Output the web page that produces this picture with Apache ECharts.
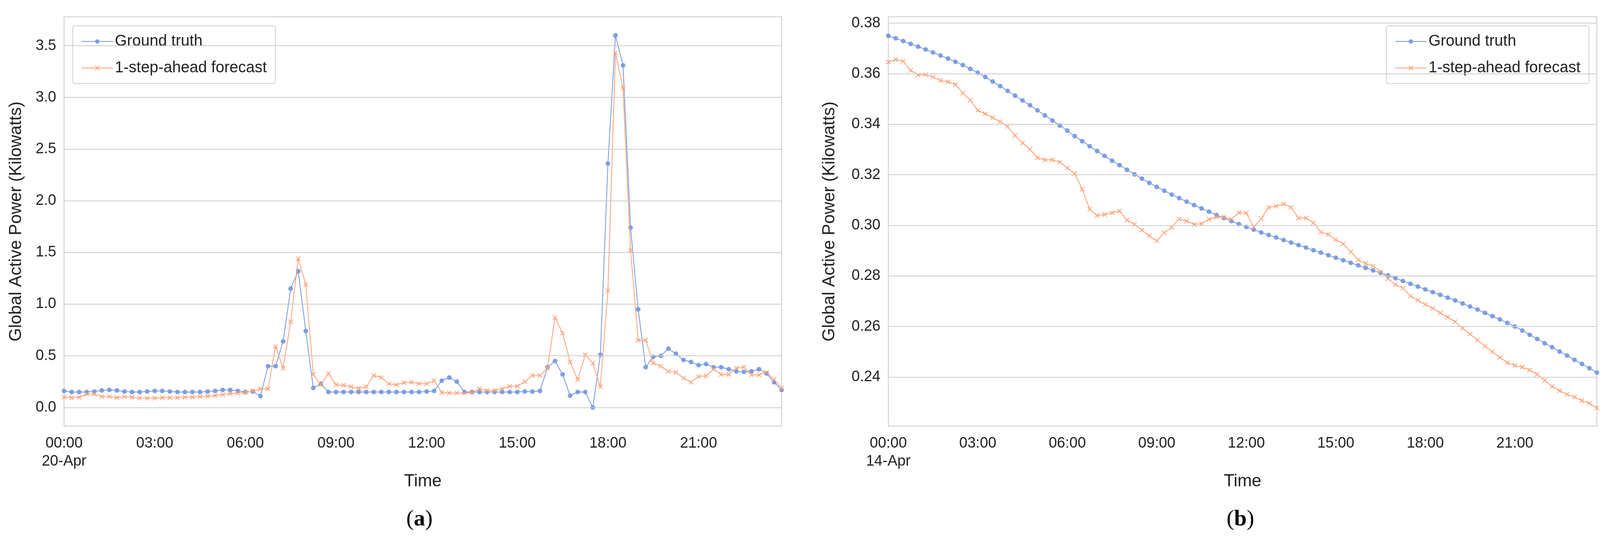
<!DOCTYPE html>
<html><head><meta charset="utf-8">
<script src="https://cdn.jsdelivr.net/npm/echarts@6/dist/echarts.min.js"></script>
<style>html,body{margin:0;padding:0;background:#fff}#c{width:4108px;height:1389px}</style>
</head><body><div id="c"></div>
<script>
const truthA=[0.16,0.15,0.15,0.15,0.155,0.165,0.17,0.165,0.155,0.15,0.15,0.155,0.16,0.16,0.155,0.15,0.15,0.15,0.15,0.155,0.16,0.17,0.17,0.16,0.15,0.155,0.11,0.40,0.40,0.64,1.15,1.32,0.74,0.19,0.23,0.15,0.15,0.15,0.15,0.15,0.15,0.15,0.15,0.15,0.15,0.15,0.15,0.15,0.155,0.16,0.26,0.29,0.25,0.15,0.15,0.15,0.15,0.15,0.15,0.15,0.15,0.155,0.155,0.16,0.39,0.45,0.32,0.115,0.15,0.15,0.0,0.51,2.36,3.60,3.31,1.74,0.95,0.39,0.49,0.50,0.57,0.52,0.46,0.44,0.41,0.42,0.39,0.39,0.37,0.35,0.345,0.35,0.37,0.33,0.245,0.17];
const predA=[0.10,0.095,0.10,0.13,0.13,0.105,0.105,0.095,0.105,0.10,0.09,0.09,0.09,0.095,0.095,0.095,0.10,0.10,0.105,0.11,0.115,0.125,0.135,0.14,0.145,0.16,0.18,0.18,0.59,0.38,0.83,1.44,1.19,0.32,0.22,0.33,0.22,0.215,0.20,0.185,0.20,0.31,0.29,0.23,0.22,0.24,0.245,0.23,0.23,0.26,0.145,0.14,0.14,0.14,0.145,0.18,0.165,0.165,0.18,0.205,0.205,0.25,0.31,0.31,0.38,0.87,0.72,0.44,0.27,0.51,0.43,0.20,1.13,3.43,3.09,1.52,0.65,0.65,0.43,0.40,0.35,0.34,0.285,0.245,0.30,0.305,0.37,0.32,0.32,0.38,0.39,0.315,0.315,0.34,0.27,0.19];
const truthB=[0.3750,0.3740,0.3729,0.3718,0.3707,0.3696,0.3684,0.3672,0.3660,0.3647,0.3634,0.3619,0.3604,0.3587,0.3569,0.3551,0.3532,0.3513,0.3494,0.3475,0.3455,0.3435,0.3415,0.3395,0.3375,0.3353,0.3333,0.3313,0.3294,0.3275,0.3256,0.3238,0.3220,0.3202,0.3185,0.3168,0.3152,0.3137,0.3122,0.3108,0.3094,0.3080,0.3067,0.3054,0.3041,0.3029,0.3017,0.3005,0.2994,0.2983,0.2972,0.2962,0.2952,0.2942,0.2932,0.2922,0.2912,0.2902,0.2892,0.2882,0.2872,0.2862,0.2852,0.2842,0.2832,0.2822,0.2812,0.2802,0.2791,0.2780,0.2769,0.2758,0.2747,0.2736,0.2725,0.2714,0.2703,0.2691,0.2679,0.2667,0.2654,0.2641,0.2628,0.2614,0.2600,0.2584,0.2567,0.2551,0.2534,0.2518,0.2501,0.2485,0.2468,0.2452,0.2435,0.2418];
const predB=[0.3646,0.3656,0.3649,0.3613,0.3595,0.3596,0.3587,0.3573,0.3568,0.3557,0.3523,0.3495,0.3455,0.3441,0.3426,0.3410,0.3391,0.3355,0.3326,0.3301,0.3268,0.3259,0.3259,0.3250,0.3227,0.3205,0.3143,0.3064,0.3039,0.3043,0.3050,0.3057,0.3021,0.3004,0.2981,0.2959,0.2939,0.2971,0.2992,0.3025,0.3017,0.3004,0.3007,0.3024,0.3033,0.3032,0.3025,0.3050,0.3049,0.2993,0.3027,0.3071,0.3076,0.3085,0.3071,0.3029,0.3029,0.3010,0.2974,0.2964,0.2943,0.2927,0.2896,0.2863,0.2849,0.2839,0.2817,0.2789,0.2766,0.2752,0.2720,0.2704,0.2687,0.2672,0.2654,0.2637,0.2619,0.2593,0.2570,0.2546,0.2522,0.2500,0.2478,0.2457,0.2446,0.2439,0.2428,0.2411,0.2387,0.2363,0.2346,0.2331,0.2321,0.2307,0.2296,0.2278];
const yTicksA=[0,0.5,1,1.5,2,2.5,3,3.5];
const yTicksB=[0.24,0.26,0.28,0.30,0.32,0.34,0.36,0.38];
const tickHoursStep=3;
const dateA='20-Apr', dateB='14-Apr';
const BLUE='#7397e0', ORANGE='#ff9f72';
const XSYM='path://M0,0L10,10M10,0L0,10';
const FONT='Liberation Sans';
function pts(arr){return arr.map((v,i)=>[i*0.25,v]);}
function xAxis(idx,date){return {type:'value',gridIndex:idx,min:0,max:23.75,interval:tickHoursStep,
 name:'Time',nameLocation:'middle',nameGap:120,nameTextStyle:{fontSize:44,color:'#222',fontFamily:FONT},
 axisLine:{show:false},axisTick:{show:false},splitLine:{show:false},
 axisLabel:{fontSize:38,color:'#222',fontFamily:FONT,margin:22,showMaxLabel:false,lineHeight:46,
  formatter:v=>{const h=String(Math.round(v)).padStart(2,'0')+':00';return v===0?h+'\n'+date:h;}}};}
function yAxis(idx,min,max,ticks,dec){return {type:'value',gridIndex:idx,min:min,max:max,
 name:'Global Active Power (Kilowatts)',nameLocation:'middle',nameGap:idx===0?100:128,nameTextStyle:{fontSize:44,color:'#222',fontFamily:FONT},
 axisLine:{show:false},axisTick:{show:false},splitLine:{show:false},
 axisLabel:{fontSize:38,color:'#222',fontFamily:FONT,margin:20,customValues:ticks,formatter:v=>v.toFixed(dec)}};}
function gridLines(ticks,xi){return {type:'line',xAxisIndex:xi,yAxisIndex:xi,data:[],silent:true,animation:false,
 markLine:{silent:true,symbol:'none',animation:false,label:{show:false},lineStyle:{color:'#cccccc',width:2,type:'solid'},
  data:ticks.map(t=>({yAxis:t}))},z:1};}
function ser(name,data,xi,isTruth){return {name:name,type:'line',xAxisIndex:xi,yAxisIndex:xi,data:pts(data),
 symbol:isTruth?'circle':XSYM,symbolSize:isTruth?12:11,showSymbol:true,
 lineStyle:{color:isTruth?BLUE:ORANGE,width:2},
 itemStyle:isTruth?{color:BLUE,opacity:0.9}:{color:'none',borderColor:ORANGE,borderWidth:2},
 emphasis:{disabled:true},animation:false,z:isTruth?2:3};}
const legendBase={orient:'vertical',backgroundColor:'#fff',borderColor:'#d0d0d0',borderWidth:2,borderRadius:6,
 padding:[20,22,20,22],itemGap:28,itemWidth:80,itemHeight:14,textStyle:{fontSize:40,color:'#222',fontFamily:FONT},
 data:['Ground truth','1-step-ahead forecast']};
const chart=echarts.init(document.getElementById('c'),null,{renderer:'canvas'});
chart.setOption({
 backgroundColor:'#fff',animation:false,
 grid:[{left:164,right:2107,top:43,bottom:299,show:true,borderColor:'#cccccc',borderWidth:2,backgroundColor:'transparent'},
       {left:2274,right:20,top:43,bottom:299,show:true,borderColor:'#cccccc',borderWidth:2,backgroundColor:'transparent'}],
 xAxis:[xAxis(0,dateA),xAxis(1,dateB)],
 yAxis:[yAxis(0,-0.18,3.78,yTicksA,1),yAxis(1,0.2206,0.3825,yTicksB,2)],
 legend:[Object.assign({},legendBase,{left:186,top:66}),
         Object.assign({},legendBase,{right:40,top:66})],
 series:[gridLines(yTicksA,0),gridLines(yTicksB,1),
         ser('Ground truth',truthA,0,true),ser('1-step-ahead forecast',predA,0,false),
         ser('Ground truth',truthB,1,true),ser('1-step-ahead forecast',predB,1,false)],
 graphic:[
  {type:'text',left:1040,top:1300,style:{text:'({b|a})',rich:{b:{fontWeight:'bold',fontSize:58,fontFamily:'Liberation Serif'}},fontSize:58,fontFamily:'Liberation Serif',fill:'#000'}},
  {type:'text',left:3140,top:1300,style:{text:'({b|b})',rich:{b:{fontWeight:'bold',fontSize:58,fontFamily:'Liberation Serif'}},fontSize:58,fontFamily:'Liberation Serif',fill:'#000'}}
 ]
});
</script></body></html>
